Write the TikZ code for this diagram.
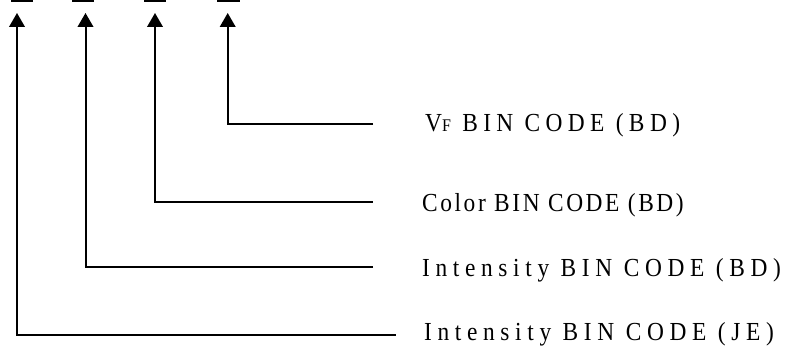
\documentclass[tikz,border=0pt]{standalone}
\usepackage{fontspec}
\usetikzlibrary{arrows.meta}
\newfontfamily\fontVF[FakeStretch=0.9,LetterSpace=20.8]{Liberation Serif}
\newfontfamily\fontCol[FakeStretch=0.9,LetterSpace=9.9]{Liberation Serif}
\newfontfamily\fontInt[FakeStretch=0.9,LetterSpace=21.7]{Liberation Serif}
\begin{document}
\begin{tikzpicture}[x=1pt,y=-1pt,
  bar/.style={rectangle,fill=black,draw=none,inner sep=0pt,minimum width=22.5pt,minimum height=3.4pt},
  conn/.style={line width=2pt,-{Triangle[length=14pt,width=15.6pt]}},
  lbl/.style={anchor=base west,inner sep=0pt,font=\fontsize{26}{26}\selectfont}]
\useasboundingbox (0,0) rectangle (787,347);
% top bars
\node[bar] (b1) at (22,0.6) {};
\node[bar] (b2) at (83,0.6) {};
\node[bar] (b3) at (155,0.6) {};
\node[bar] (b4) at (228.3,0.6) {};
% arrow tips
\coordinate (t1) at (17,13);
\coordinate (t2) at (85.5,13);
\coordinate (t3) at (155,13);
\coordinate (t4) at (227.7,13);
% line ends
\coordinate (e1) at (395.5,335);
\coordinate (e2) at (373,267);
\coordinate (e3) at (372.5,201.7);
\coordinate (e4) at (373,124);
% labels
\node[lbl] (l4) at (425,132) {\fontVF V{\fontsize{17.8}{17.8}\selectfont F} BIN CODE (BD)};
\node[lbl] (l3) at (422,212) {\fontCol Color BIN CODE (BD)};
\node[lbl] (l2) at (422,277) {\fontInt Intensity BIN CODE (BD)};
\node[lbl] (l1) at (424,341) {\fontInt Intensity BIN CODE (JE)};
% connectors
\draw[conn] (e1) -| (t1);
\draw[conn] (e2) -| (t2);
\draw[conn] (e3) -| (t3);
\draw[conn] (e4) -| (t4);
\end{tikzpicture}
\end{document}
